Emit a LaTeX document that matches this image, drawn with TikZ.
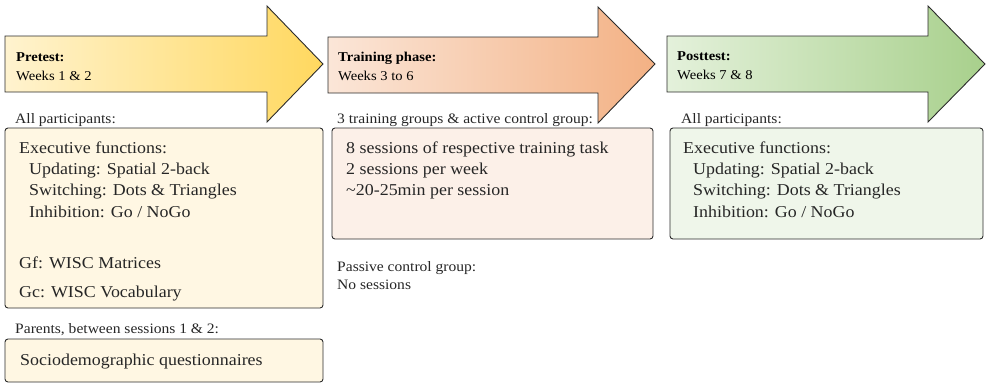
\documentclass[tikz,border=0pt]{standalone}
\usepackage{fontspec}
\setmainfont[FakeStretch=1.08]{Liberation Serif}
\definecolor{txt}{HTML}{262626}
\definecolor{edge}{HTML}{2B2B2B}
\definecolor{preL}{HTML}{FFF3CF}
\definecolor{preR}{HTML}{FFD85F}
\definecolor{trnL}{HTML}{FBE6D8}
\definecolor{trnR}{HTML}{F3B184}
\definecolor{pstL}{HTML}{E4F1DB}
\definecolor{pstR}{HTML}{A8D08C}
\definecolor{preBox}{HTML}{FFF7E3}
\definecolor{trnBox}{HTML}{FCF0E8}
\definecolor{pstBox}{HTML}{EFF6EA}
\tikzset{
  phasearrow/.style={draw=edge, line width=0.9pt, line join=miter},
  infobox/.style={draw=edge, line width=0.9pt, rounded corners=3pt},
  boxtext/.style={anchor=base west, inner sep=0pt, text=txt, font=\fontsize{16.6}{19}\selectfont},
  labeltext/.style={anchor=base west, inner sep=0pt, text=txt, font=\fontsize{14.4}{16}\selectfont},
  headtext/.style={anchor=base west, inner sep=0pt, text=black, font=\fontsize{13.5}{15}\selectfont},
}
\begin{document}
\begin{tikzpicture}[x=1pt,y=-1pt]
\useasboundingbox (0,0) rectangle (987,384);
% arrows
\path[phasearrow, left color=preL, right color=preR]
  (5,36) -- (267,36) -- (267,6) -- (323,64) -- (267,122) -- (267,92) -- (5,92) -- cycle;
\path[phasearrow, left color=trnL, right color=trnR]
  (328,37) -- (598,37) -- (598,7) -- (655,64) -- (598,123) -- (598,93) -- (328,93) -- cycle;
\path[phasearrow, left color=pstL, right color=pstR]
  (667,36) -- (928,36) -- (928,6) -- (985,64) -- (928,122) -- (928,92) -- (667,92) -- cycle;
% headers
\node[headtext] (preH) at (16,61) {\textbf{Pretest:}};
\node[headtext] (preW) at (16,80) {Weeks 1 \& 2};
\node[headtext] (trnH) at (338,61) {\textbf{Training phase:}};
\node[headtext] (trnW) at (338,80) {Weeks 3 to 6};
\node[headtext] (pstH) at (677,60) {\textbf{Posttest:}};
\node[headtext] (pstW) at (677,79) {Weeks 7 \& 8};
% labels
\node[labeltext] (preL1) at (15,123) {All participants:};
\node[labeltext] (trnL1) at (337,123) {3 training groups \& active control group:};
\node[labeltext] (pstL1) at (681,123) {All participants:};
\node[labeltext] (parL) at (15,333) {Parents, between sessions 1 \& 2:};
\node[labeltext] (pasL1) at (337,271) {Passive control group:};
\node[labeltext] (pasL2) at (337,289) {No sessions};
% boxes
\path[infobox, fill=preBox] (5,128) rectangle (323,308);
\path[infobox, fill=trnBox] (332,128) rectangle (653,239);
\path[infobox, fill=pstBox] (670,128) rectangle (983,239);
\path[infobox, fill=preBox] (5,339) rectangle (323,382);
% pretest box text
\node[boxtext] (p1) at (19,153) {Executive functions:};
\node[boxtext] (p2) at (29,174) {Updating: Spatial 2-back};
\node[boxtext] (p3) at (29,195) {Switching: Dots \& Triangles};
\node[boxtext] (p4) at (29,217) {Inhibition: Go / NoGo};
\node[boxtext] (p5) at (19,268) {Gf: WISC Matrices};
\node[boxtext] (p6) at (19,297) {Gc: WISC Vocabulary};
\node[boxtext] (q1) at (20,365) {Sociodemographic questionnaires};
% training box text
\node[boxtext] (t1) at (346,153) {8 sessions of respective training task};
\node[boxtext] (t2) at (346,174) {2 sessions per week};
\node[boxtext] (t3) at (346,195) {\textasciitilde20-25min per session};
% posttest box text
\node[boxtext] (s1) at (683,153) {Executive functions:};
\node[boxtext] (s2) at (693,174) {Updating: Spatial 2-back};
\node[boxtext] (s3) at (693,195) {Switching: Dots \& Triangles};
\node[boxtext] (s4) at (693,217) {Inhibition: Go / NoGo};
\end{tikzpicture}
\end{document}
